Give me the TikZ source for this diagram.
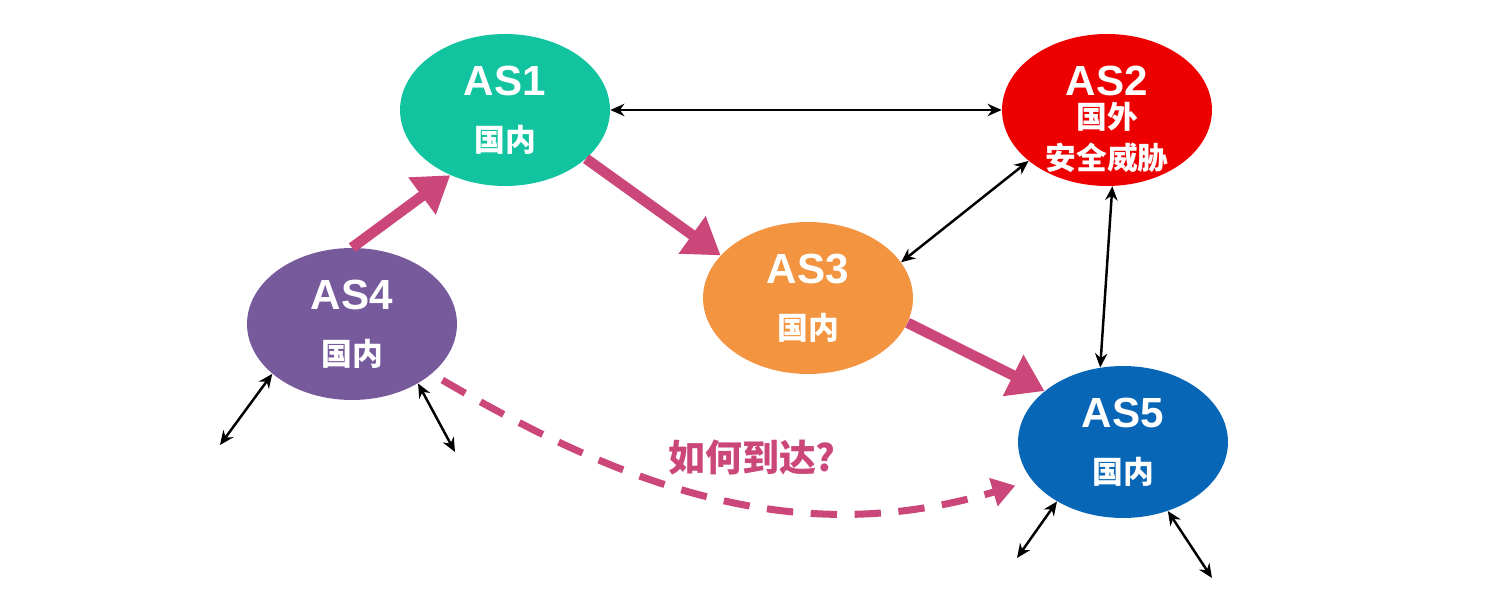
\documentclass[tikz,border=0pt]{standalone}
\usepackage{fontspec}
\setmainfont{Liberation Sans}
\newfontfamily\cjk{Noto Sans CJK SC}
\usetikzlibrary{shapes.geometric, arrows.meta}

\definecolor{asgreen}{RGB}{18,195,160}
\definecolor{asred}{RGB}{238,0,0}
\definecolor{asorange}{RGB}{242,148,64}
\definecolor{aspurple}{RGB}{118,90,156}
\definecolor{asblue}{RGB}{8,102,182}
\definecolor{routepink}{RGB}{203,70,121}

\begin{document}
\begin{tikzpicture}[
        x=0.02cm, y=-0.02cm,
        as/.style={ellipse, minimum width=4.2cm, minimum height=3.04cm, inner sep=0pt, align=center, text=white, font=\bfseries\fontsize{17.5}{32}\selectfont},
        astext/.style={align=center, text=white, inner sep=0pt, font=\bfseries\fontsize{17.5}{19}\selectfont},
        route/.style={line width=6pt, draw=routepink, -{Triangle[length=20pt, width=25pt]}},
        guess/.style={line width=4pt, draw=routepink, dash pattern=on 15pt off 10pt, -{Triangle[length=13pt, width=16pt]}},
        link/.style={line width=1.4pt, {Stealth[length=8pt, width=7pt]}-{Stealth[length=8pt, width=7pt]}},
        ask/.style={text=routepink, font=\cjk\bfseries\fontsize{21}{21}\selectfont}
    ]
        \useasboundingbox (0,0) rectangle (1498,590);

        \node[as, fill=asgreen] (as1) at (505,110) {{\fontsize{24}{24}\selectfont AS1}\\{\cjk 国内}};
        \node[as, fill=asred] (as2) at (1107,110) {};
        \node[astext] (as2t) at (1107,119) {{\fontsize{24}{24}\selectfont AS2}\\{\cjk 国外}\\[4pt]{\cjk 安全威胁}};
        \node[as, fill=asorange] (as3) at (808,298) {{\fontsize{24}{24}\selectfont AS3}\\{\cjk 国内}};
        \node[as, fill=aspurple] (as4) at (352,324) {{\fontsize{24}{24}\selectfont AS4}\\{\cjk 国内}};
        \node[as, fill=asblue] (as5) at (1123,442) {{\fontsize{24}{24}\selectfont AS5}\\{\cjk 国内}};

        % loose ends
        \coordinate (as4a) at (220,445);
        \coordinate (as4b) at (455,452);
        \coordinate (as5a) at (1017,558);
        \coordinate (as5b) at (1212,578);

        % the path taken
        \draw[route] (as4.90) -- (as1.230);
        \draw[route] (as1.329) -- (as3.154);
        \draw[route] (as3.346) -- (as5.147);

        \draw[guess, shorten <=7pt, shorten >=10pt] (as4.328) .. controls (630,490) and (800,550) .. (as5.203);
        \node[ask] (how) at (752,458) {如何到达?};

        % peerings
        \draw[link] (as1.east) -- (as2.west);
        \draw[link] (as3.21) -- (as2.213);
        \draw[link] (as2.274) -- (as5.107);
        \draw[link] (as4.212) -- (as4a);
        \draw[link] (as4.318) -- (as4b);
        \draw[link] (as5.222) -- (as5a);
        \draw[link] (as5.303) -- (as5b);
    \end{tikzpicture}
\end{document}
